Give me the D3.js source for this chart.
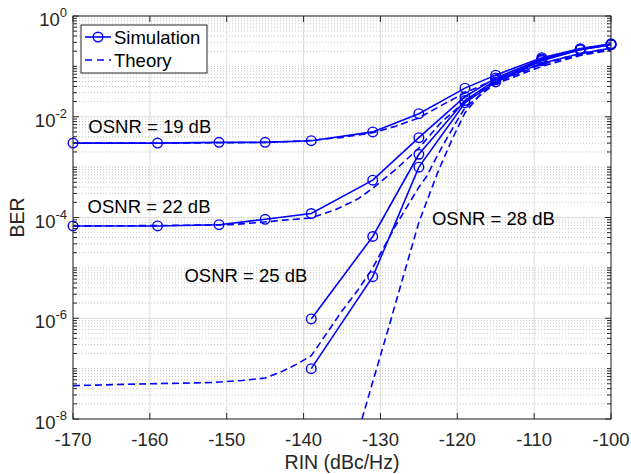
<!DOCTYPE html>
<html>
<head>
<meta charset="utf-8">
<script src="https://cdn.jsdelivr.net/npm/d3@7"></script>
<style>
  body { margin: 0; background: #fff; }
  svg { display: block; font-family: "Liberation Sans", Arial, sans-serif; }
</style>
</head>
<body>
<svg id="chart" width="631" height="474"></svg>
<script>
// simulation points (RIN in dBc/Hz)
const rinA = [-170, -159, -151, -145, -139, -131, -125, -119, -115, -109, -104, -100];
const sim19 = [3.0e-3, 3.0e-3, 3.1e-3, 3.1e-3, 3.35e-3, 5.0e-3, 1.15e-2, 3.7e-2, 6.7e-2, 0.149, 0.225, 0.28];
const sim22 = [6.8e-5, 6.8e-5, 7.2e-5, 9.2e-5, 1.2e-4, 5.5e-4, 3.85e-3, 2.5e-2, 5.9e-2, 0.14, 0.22, 0.275];
const rinB = [-139, -131, -125, -119, -115, -109, -104, -100];
const sim25 = [9.7e-7, 4.2e-5, 1.8e-3, 2.1e-2, 5.4e-2, 0.135, 0.215, 0.27];
const sim28 = [1.0e-7, 6.7e-6, 1.0e-3, 1.9e-2, 4.9e-2, 0.13, 0.215, 0.27];

// theory curves
const thRin19 = [-170, -160, -150, -145, -140, -135, -131, -128, -125, -122, -119, -115, -112, -109, -104, -100];
const th19 = [3.0e-3, 3.0e-3, 3.05e-3, 3.1e-3, 3.3e-3, 3.9e-3, 4.8e-3, 6.5e-3, 9.5e-3, 1.7e-2, 3.0e-2, 5.5e-2, 8.0e-2, 0.115, 0.18, 0.23];
const thRin22 = [-170, -160, -152, -149, -146, -142, -139, -136, -133, -131, -128, -125, -122, -119, -117, -115, -109, -104, -100];
const th22 = [6.8e-5, 6.9e-5, 7.1e-5, 7.3e-5, 7.9e-5, 9.0e-5, 9.8e-5, 1.4e-4, 2.3e-4, 3.8e-4, 9.0e-4, 2.4e-3, 8.0e-3, 2.0e-2, 3.3e-2, 5.0e-2, 0.115, 0.18, 0.23];
const thRin25 = [-170, -160, -152, -148, -145, -143, -141, -139, -137, -135, -133, -131, -128, -125, -124, -122, -120, -119, -115, -109, -104, -100];
const th25 = [4.6e-8, 5.0e-8, 5.3e-8, 5.8e-8, 6.5e-8, 8.5e-8, 1.2e-7, 1.8e-7, 5.0e-7, 1.4e-6, 3.5e-6, 1.0e-5, 7.0e-5, 4.0e-4, 6.5e-4, 2.5e-3, 8.5e-3, 1.5e-2, 4.8e-2, 0.11, 0.17, 0.22];
const thRin28 = [-132.4, -131.3, -129, -127, -125, -122.6, -120.7, -119, -117, -115, -109, -104, -100];
const th28 = [1.0e-8, 3.8e-8, 6.0e-7, 7.0e-6, 8.0e-5, 7.5e-4, 3.5e-3, 1.2e-2, 2.8e-2, 4.5e-2, 0.1, 0.165, 0.21];

const xTicks = [-170, -160, -150, -140, -130, -120, -110, -100];
const yTickExp = [0, -2, -4, -6, -8];

const labels = [
  { text: "OSNR = 19 dB", x: -168.0, y: 4.8e-3 },
  { text: "OSNR = 22 dB", x: -168.1, y: 1.24e-4 },
  { text: "OSNR = 25 dB", x: -155.5, y: 5.2e-6 },
  { text: "OSNR = 28 dB", x: -123.3, y: 7.1e-5 }
];

const svg = d3.select("#chart");
const margin = { left: 73, right: 20, top: 16, bottom: 55 };
const W = 631, H = 474;
const x = d3.scaleLinear().domain([-170, -100]).range([margin.left, W - margin.right]);
const y = d3.scaleLog().domain([1e-8, 1]).range([H - margin.bottom, margin.top]);
const blue = "#0000ff";

const x0 = x.range()[0], x1 = x.range()[1], y0 = y.range()[0], y1 = y.range()[1];

// minor grid (log)
const minorVals = [];
for (let e = -8; e < 0; e++) {
  for (let m = 1; m <= 9; m++) {
    const v = m * Math.pow(10, e);
    if (m === 1 && e % 2 === 0) continue;
    minorVals.push(v);
  }
}
const grid = svg.append("g");
grid.selectAll("line.minor").data(minorVals).enter().append("line")
  .attr("x1", x0).attr("x2", x1)
  .attr("y1", d => y(d)).attr("y2", d => y(d))
  .attr("stroke", "#c4c4c4").attr("stroke-width", 1)
  .attr("stroke-dasharray", "1,2");
grid.selectAll("line.majy").data(yTickExp).enter().append("line")
  .attr("x1", x0).attr("x2", x1)
  .attr("y1", d => y(Math.pow(10, d))).attr("y2", d => y(Math.pow(10, d)))
  .attr("stroke", "#dcdcdc").attr("stroke-width", 1);
grid.selectAll("line.majx").data(xTicks).enter().append("line")
  .attr("x1", d => x(d)).attr("x2", d => x(d))
  .attr("y1", y0).attr("y2", y1)
  .attr("stroke", "#dcdcdc").attr("stroke-width", 1);

// data
const line = d3.line().x(d => x(d[0])).y(d => y(d[1]));
const zip = (a, b) => a.map((v, i) => [v, b[i]]);

const theory = [zip(thRin19, th19), zip(thRin22, th22), zip(thRin25, th25), zip(thRin28, th28)];
const sims = [zip(rinA, sim19), zip(rinA, sim22), zip(rinB, sim25), zip(rinB, sim28)];

svg.append("clipPath").attr("id", "clip").append("rect")
  .attr("x", x0).attr("y", y1).attr("width", x1 - x0).attr("height", y0 - y1);

const plot = svg.append("g").attr("clip-path", "url(#clip)");
plot.selectAll("path.th").data(theory).enter().append("path")
  .attr("d", line).attr("fill", "none").attr("stroke", blue)
  .attr("stroke-width", 1.6).attr("stroke-dasharray", "7,4");
plot.selectAll("path.sim").data(sims).enter().append("path")
  .attr("d", line).attr("fill", "none").attr("stroke", blue)
  .attr("stroke-width", 1.6);

const marks = svg.append("g");
sims.forEach(s => {
  marks.selectAll(null).data(s).enter().append("circle")
    .attr("cx", d => x(d[0])).attr("cy", d => y(d[1])).attr("r", 4.8)
    .attr("fill", "none").attr("stroke", blue).attr("stroke-width", 1.4);
});

// axes box + ticks (inward, MATLAB style)
const ax = svg.append("g").attr("stroke", "#262626").attr("stroke-width", 1);
ax.append("rect").attr("x", x0).attr("y", y1).attr("width", x1 - x0).attr("height", y0 - y1)
  .attr("fill", "none");
xTicks.forEach(t => {
  ax.append("line").attr("x1", x(t)).attr("x2", x(t)).attr("y1", y0).attr("y2", y0 - 6);
  ax.append("line").attr("x1", x(t)).attr("x2", x(t)).attr("y1", y1).attr("y2", y1 + 6);
});
minorVals.forEach(v => {
  ax.append("line").attr("x1", x0).attr("x2", x0 + 4).attr("y1", y(v)).attr("y2", y(v));
  ax.append("line").attr("x1", x1).attr("x2", x1 - 4).attr("y1", y(v)).attr("y2", y(v));
});
yTickExp.forEach(e => {
  const v = Math.pow(10, e);
  ax.append("line").attr("x1", x0).attr("x2", x0 + 6).attr("y1", y(v)).attr("y2", y(v));
  ax.append("line").attr("x1", x1).attr("x2", x1 - 6).attr("y1", y(v)).attr("y2", y(v));
});

// tick labels
const txt = svg.append("g").attr("fill", "#262626");
txt.selectAll("text.xt").data(xTicks).enter().append("text")
  .attr("x", d => x(d)).attr("y", y0 + 27).attr("text-anchor", "middle")
  .attr("font-size", 18.5).text(d => d);
yTickExp.forEach(e => {
  const t = txt.append("text").attr("x", x0 - 6).attr("y", y(Math.pow(10, e)) + 10)
    .attr("text-anchor", "end").attr("font-size", 18.5);
  t.append("tspan").text("10");
  t.append("tspan").attr("dy", -9).attr("font-size", 13).text(e);
});
txt.append("text").attr("x", (x0 + x1) / 2).attr("y", H - 5).attr("text-anchor", "middle")
  .attr("font-size", 19.5).text("RIN (dBc/Hz)");
txt.append("text").attr("transform", `translate(24,${(y0 + y1) / 2}) rotate(-90)`)
  .attr("text-anchor", "middle").attr("font-size", 19.5).text("BER");

// annotations
svg.selectAll("text.ann").data(labels).enter().append("text")
  .attr("x", d => x(d.x)).attr("y", d => y(d.y)).attr("font-size", 18.5)
  .attr("fill", "#000").text(d => d.text);

// legend
const lg = svg.append("g").attr("transform", "translate(81,25)");
lg.append("rect").attr("width", 126).attr("height", 48).attr("fill", "#fff")
  .attr("stroke", "#262626").attr("stroke-width", 1);
lg.append("line").attr("x1", 4).attr("x2", 30).attr("y1", 12).attr("y2", 12)
  .attr("stroke", blue).attr("stroke-width", 1.6);
lg.append("circle").attr("cx", 17).attr("cy", 12).attr("r", 4.8)
  .attr("fill", "none").attr("stroke", blue).attr("stroke-width", 1.4);
lg.append("line").attr("x1", 4).attr("x2", 30).attr("y1", 35).attr("y2", 35)
  .attr("stroke", blue).attr("stroke-width", 1.6).attr("stroke-dasharray", "7,5");
lg.append("text").attr("x", 33).attr("y", 18.5).attr("font-size", 18.5).text("Simulation");
lg.append("text").attr("x", 33).attr("y", 41.5).attr("font-size", 18.5).text("Theory");
</script>
</body>
</html>
